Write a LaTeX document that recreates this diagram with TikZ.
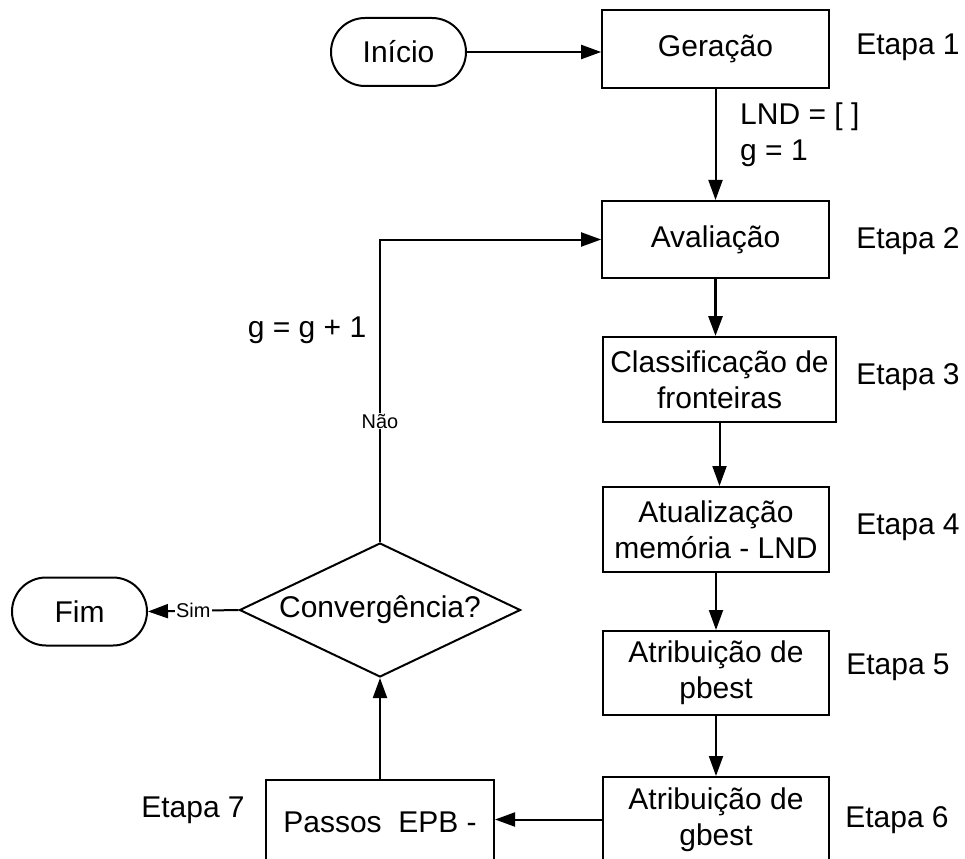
\documentclass[tikz,border=0pt]{standalone}
\usepackage{fontspec}
\setmainfont{Liberation Sans}
\usetikzlibrary{arrows.meta,positioning,shapes.geometric}

\begin{document}
\begin{tikzpicture}[
    x=0.3mm, y=-0.3mm,
    every node/.style={font=\fontsize{25.6}{30.7}\selectfont},
    box/.style={draw,line width=0.6mm,minimum width=68mm,minimum height=25.5mm,align=center,inner sep=0pt},
    term/.style={draw,line width=0.6mm,rounded corners=10.2mm,minimum width=40.5mm,minimum height=20.4mm},
    decision/.style={draw,diamond,line width=0.6mm,aspect=2.1,minimum width=84.3mm,minimum height=40.2mm,inner sep=0pt},
    arr/.style={-{Triangle[length=6mm,width=4.2mm]},line width=0.6mm},
    lbl/.style={font=\fontsize{17}{20}\selectfont,fill=white,inner sep=1pt}
]
\useasboundingbox (0,0) rectangle (965,858);
% coluna principal
\node[term] (ini) at (398.5,52) {Início};
\node[box,minimum height=23.4mm] (gen)  at (715.5,49)    {Geração};
\node[box,minimum height=23.1mm] (aval) at (715.5,239.5) {Avaliação};
\node[box,minimum width=69.9mm]  (clas) at (719.5,379.5) {Classificação de\\fronteiras};
\node[box] (atu) at (716,529.5) {Atualização\\memória - LND};
\node[box,minimum height=25.2mm] (pb) at (716,673) {Atribuição de\\pbest};
\node[box] (gb) at (716,819.5) {Atribuição de\\gbest};
\node[box,minimum width=68.4mm] (ps) at (380,822) {Passos\ \ EPB -};
\node[decision] (conv) at (380,610) {Convergência?};
\node[term] (fim) at (79.5,611.5) {Fim};
% etapas
\node (e1) at (908,47)  {Etapa 1};
\node (e2) at (908,241) {Etapa 2};
\node (e3) at (908,377) {Etapa 3};
\node (e4) at (908,527) {Etapa 4};
\node (e5) at (898,667) {Etapa 5};
\node (e6) at (897,820) {Etapa 6};
\node (e7) at (193,810) {Etapa 7};
\node[align=left,anchor=west,inner sep=0pt] (ini0) at (740,135) {LND = [ ]\\g = 1};
\node (inc) at (307,330) {g = g + 1};
% conectores
\draw[arr] (ini) -- (ini -| gen.west);
\foreach \a/\b in {gen/aval,clas/atu,atu/pb,pb/gb}
    \draw[arr] (\a.south) -- (\a.south |- \b.north);
\draw[arr,line width=0.9mm] (aval.south) -- (aval.south |- clas.north);
\draw[arr] (gb.west) -- (ps.east |- gb.west);
\draw[arr] (ps.north) -- (conv.south);
\draw[arr] (conv.north) |- node[lbl,pos=0.2] {Não} (aval.west);
\draw[arr] (conv.west) -- node[lbl] {Sim} (fim.east);
\end{tikzpicture}
\end{document}
